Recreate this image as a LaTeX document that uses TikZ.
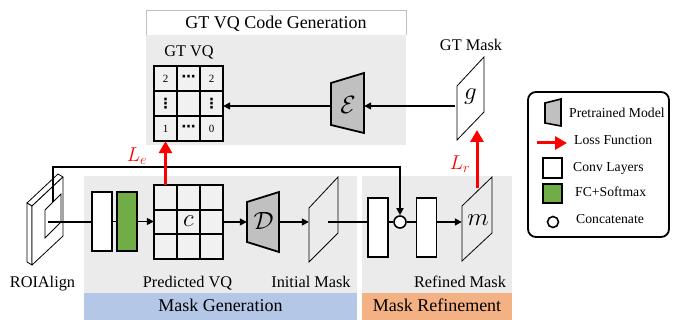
\RequirePackage{fix-cm}
\documentclass[tikz,border=0pt]{standalone}
\usepackage{fontspec}
\setmainfont{Liberation Serif}
\newfontfamily\dotsfont{DejaVu Sans}
\usepackage{amsmath}
\usetikzlibrary{arrows.meta}
\definecolor{bggray}{HTML}{EBEBEB}
\definecolor{cellgray}{HTML}{F1F1F1}
\definecolor{headgray}{HTML}{BFBFBF}
\definecolor{genblue}{HTML}{B4C7E7}
\definecolor{reforange}{HTML}{F4B183}
\definecolor{fcgreen}{HTML}{70AD47}
\definecolor{modelgray}{HTML}{C0C0C0}
\begin{document}
\begin{tikzpicture}[x=1pt,y=-1pt,
  conn/.style={line width=1.6pt,-{Triangle[length=7pt,width=7pt]}},
  link/.style={line width=1.6pt},
  loss/.style={draw=red,line width=3pt,-{Triangle[length=12pt,width=13pt]}},
  convbox/.style={draw,line width=1.4pt,fill=white,minimum width=20pt,minimum height=59pt,inner sep=0pt},
  fcbox/.style={convbox,fill=fcgreen},
  lbl/.style={font=\fontsize{16.3}{18}\selectfont,inner sep=0pt,anchor=base},
  head/.style={font=\fontsize{18}{20}\selectfont,inner sep=0pt,anchor=base},
  leg/.style={font=\fontsize{13.7}{16}\selectfont,inner sep=0pt,anchor=base west},
  mth/.style={font=\fontsize{25}{27}\selectfont,inner sep=0pt},
  lossl/.style={font=\fontsize{20}{22}\selectfont,inner sep=0pt,text=red},
  model/.style={draw,line width=1.8pt,fill=modelgray,line join=miter},
  maskp/.style={draw,line width=0.8pt},
  gridl/.style={line width=1.8pt},
  celltxt/.style={font=\fontsize{11}{13}\selectfont,inner sep=0pt},
  celldots/.style={font=\dotsfont\bfseries\fontsize{14}{16}\selectfont,inner sep=0pt},
  holder/.style={draw=none,inner sep=0pt},
]
\useasboundingbox (0,0) rectangle (678,320);

% ---------- background panels ----------
\fill[bggray] (146,35) rectangle (406,145);
\draw[headgray,line width=1pt] (146,35) -- (146,11) -- (406,11) -- (406,35);
\node[head] (hdr) at (276,28.5) {GT VQ Code Generation};

\fill[bggray] (84,176) rectangle (357,293);
\fill[genblue] (84,293) rectangle (357,320);
\fill[bggray] (362,176) rectangle (512,293);
\fill[reforange] (362,293) rectangle (512,320);
\node[head] (mg) at (220.5,312) {Mask Generation};
\node[head] (mr) at (437,312) {Mask Refinement};

% ---------- GT VQ grid ----------
\node[lbl] (gtl) at (189,57) {GT VQ};
\node[holder,fill=cellgray,minimum width=69pt,minimum height=75pt] (gt) at (188.5,103.5) {};
\draw[gridl] (gt.north west) rectangle (gt.south east);
\draw[gridl] (177,66) -- (177,141) (200,66) -- (200,141) (154,91) -- (223,91) (154,116) -- (223,116);
\node[celltxt] (g11) at (165.5,78.5) {2};
\node[celldots] (g12) at (188.5,78.5) {⋯};
\node[celltxt] (g13) at (211.5,78.5) {2};
\node[celldots] (g21) at (165.5,103.5) {⋮};
\node[celldots] (g23) at (211.5,103.5) {⋮};
\node[celltxt] (g31) at (165.5,128.5) {1};
\node[celldots] (g32) at (188.5,128.5) {⋯};
\node[celltxt] (g33) at (211.5,128.5) {0};

% ---------- Encoder ----------
\draw[model] (331,83) -- (364,73) -- (364,133) -- (331,125) -- cycle;
\node[holder,minimum width=33pt,minimum height=60pt] (E) at (347.5,106) {};
\node[mth] (El) at (348,104.5) {$\mathcal{E}$};

% ---------- GT mask ----------
\draw[maskp,fill=white] (457,140) -- (457,86) -- (484,57) -- (484,112) -- cycle;
\node[holder,minimum width=27pt,minimum height=83pt] (gm) at (470.5,98.5) {};
\node[mth] (gml) at (470.5,97) {$g$};
\node[lbl] (gmt) at (471,51) {GT Mask};

\draw[conn] ([xshift=-2pt]gm.west |- E.east) -- (E.east);
\draw[conn] (E.west) -- (E.west -| gt.east);

% ---------- ROIAlign slab ----------
\draw[maskp,fill=white,line join=round] (27,203) -- (58,174) -- (63,177) -- (32,206) -- cycle;
\draw[maskp,fill=white,line join=round] (27,203) -- (32,206) -- (32,265) -- (27,262) -- cycle;
\draw[maskp,fill=white,line join=round] (32,206) -- (63,177) -- (63,236) -- (32,265) -- cycle;
\draw[maskp,fill=white] (45,210) -- (61,194) -- (61,222) -- (45,238) -- cycle;
\coordinate (roi) at (48,222);
\coordinate (sk) at (53,202);
\coordinate (skt) at (53,167);
\node[lbl] (roil) at (42.5,288) {ROIAlign};

% ---------- mask generation ----------
\node[convbox] (cv1) at (102,221.5) {};
\node[fcbox] (fc) at (127,221.5) {};
\node[holder,fill=cellgray,minimum width=69pt,minimum height=74pt] (pv) at (188.5,222) {};
\draw[gridl] (pv.north west) rectangle (pv.south east);
\draw[gridl] (177,185) -- (177,259) (200,185) -- (200,259) (154,209.7) -- (223,209.7) (154,234.3) -- (223,234.3);
\node[mth] (pvl) at (188.5,221) {$c$};
\node[lbl] (pvt) at (187.5,288) {Predicted VQ};

\draw[model] (247,202) -- (279,192) -- (279,252) -- (247,242) -- cycle;
\node[holder,minimum width=32pt,minimum height=60pt] (D) at (263,222) {};
\node[mth] (Dl) at (263.5,221) {$\mathcal{D}$};

\draw[maskp] (309,262) -- (309,208) -- (338,177) -- (338,233) -- cycle;
\node[holder,minimum width=29pt,minimum height=85pt] (im) at (323.5,219.5) {};
\coordinate (imc) at (328,222);
\node[lbl] (imt) at (311,288) {Initial Mask};

\draw[link] (roi) -- (roi -| cv1.west);
\draw[link] (cv1.east) -- (fc.west);
\draw[conn] (fc.east) -- (fc.east -| pv.west);
\draw[conn] (pv.east) -- (D.west);
\draw[conn] (D.east) -- (D.east -| im.west);

% ---------- mask refinement ----------
\node[convbox] (cv2) at (378,227.5) {};
\node[draw,circle,line width=1.6pt,fill=white,minimum size=12pt,inner sep=0pt] (cat) at (400,222) {};
\node[convbox] (cv3) at (426.5,227.5) {};
\draw[maskp] (462,261) -- (462,206) -- (492,177) -- (492,233) -- cycle;
\node[holder,minimum width=30pt,minimum height=84pt] (rm) at (477,219) {};
\node[mth] (rml) at (478,220) {$m$};
\node[lbl] (rmt) at (460,288) {Refined Mask};

\draw[link] (imc) -- (imc -| cv2.west);
\draw[link] (cat -| cv2.east) -- (cat.west);
\draw[link] (cat.east) -- (cat -| cv3.west);
\draw[conn] (cat -| cv3.east) -- (cat -| rm.west);
\draw[conn] (sk) -- (skt) -| (cat.north);

% ---------- losses ----------
\draw[loss] ([xshift=-23pt]pv.north) -- ([xshift=-23pt]gt.south);
\node[lossl] (Le) at (137,156) {$L_e$};
\coordinate (lrs) at (477,188);
\coordinate (lre) at (477,130);
\draw[loss] (lrs) -- (lre);
\node[lossl] (Lr) at (460,164) {$L_r$};

% ---------- legend ----------
\node[draw,line width=1.8pt,rounded corners=8pt,minimum width=141pt,minimum height=145pt,inner sep=0pt] (leg) at (598.5,164.5) {};
\draw[model,line width=1.6pt] (545,103) -- (561,99) -- (561,126) -- (545,123) -- cycle;
\node[leg] (lt1) at (569,118) {Pretrained Model};
\coordinate (la1) at (537,143);
\coordinate (la2) at (567,143);
\draw[loss] (la1) -- (la2);
\node[leg] (lt2) at (574,145) {Loss Function};
\node[draw,line width=1.4pt,fill=white,minimum width=19pt,minimum height=20pt,inner sep=0pt] (lc) at (552.5,168) {};
\node[leg] (lt3) at (573,172) {Conv Layers};
\node[draw,line width=1.4pt,fill=fcgreen,minimum width=19pt,minimum height=19pt,inner sep=0pt] (lf) at (552.5,193.5) {};
\node[leg] (lt4) at (575,197) {FC+Softmax};
\node[draw,circle,line width=1.6pt,minimum size=11pt,inner sep=0pt] (lcat) at (553,222) {};
\node[leg] (lt5) at (576,224) {Concatenate};
\end{tikzpicture}
\end{document}
